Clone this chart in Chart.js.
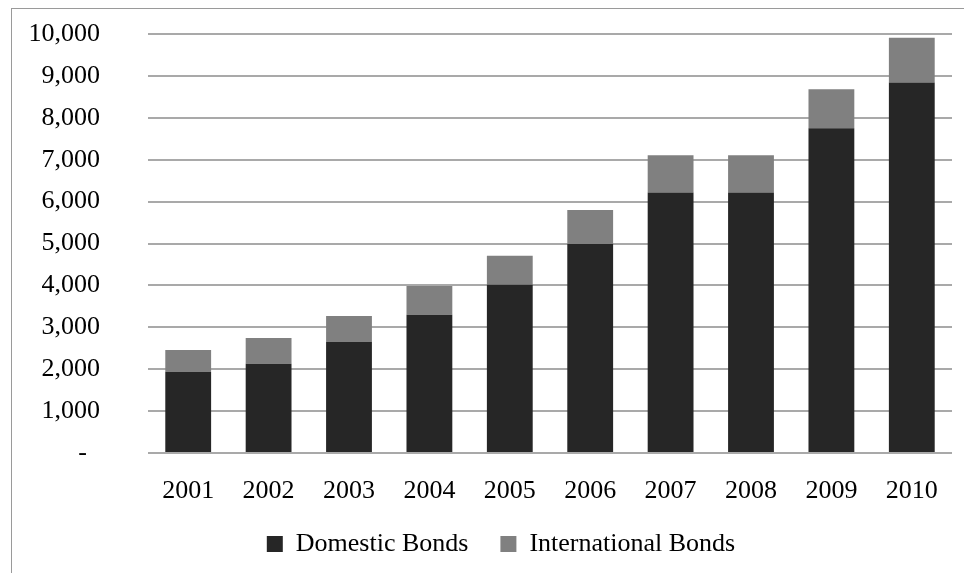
<!DOCTYPE html>
<html>
<head>
<meta charset="utf-8">
<title>Domestic and International Bonds</title>
<script src="https://cdn.jsdelivr.net/npm/chart.js@4.4.1/dist/chart.umd.min.js"></script>
<style>
  html, body { margin: 0; padding: 0; background: #fff; overflow: hidden; }
  #wrap { position: relative; width: 964px; height: 573px; }
  /* outer frame, runs off the right and bottom edges */
  #frame {
    position: absolute; left: 11px; top: 8px; width: 1000px; height: 700px;
    border: 1px solid #9a9a9a; box-sizing: border-box;
  }
  #bondChart { position: absolute; left: 0; top: 0; }
</style>
</head>
<body>
<div id="wrap">
  <div id="frame"></div>
  <canvas id="bondChart" width="964" height="573"></canvas>
</div>
<script>
// Data
const years = ['2001', '2002', '2003', '2004', '2005', '2006', '2007', '2008', '2009', '2010'];
const domesticBonds = [1940, 2130, 2655, 3300, 4015, 4990, 6220, 6220, 7750, 8840];
const internationalBonds = [520, 615, 615, 685, 695, 810, 885, 885, 930, 1070];
const yTicks = [0, 1000, 2000, 3000, 4000, 5000, 6000, 7000, 8000, 9000, 10000];

const serif = { family: "'Liberation Serif', 'Times New Roman', serif", size: 26 };

// nudge the legend a little right of the canvas centre
const legendShift = {
  id: 'legendShift',
  afterLayout(chart) {
    chart.legend.left += 12;
    chart.legend.right += 12;
  }
};

const ctx = document.getElementById('bondChart').getContext('2d');
const bondChart = new Chart(ctx, {
  type: 'bar',
  data: {
    labels: years,
    datasets: [
      {
        label: 'Domestic Bonds',
        data: domesticBonds,
        backgroundColor: '#262626',
        barPercentage: 0.57,
        categoryPercentage: 1
      },
      {
        label: 'International Bonds',
        data: internationalBonds,
        backgroundColor: '#808080',
        barPercentage: 0.57,
        categoryPercentage: 1
      }
    ]
  },
  plugins: [legendShift],
  options: {
    responsive: false,
    animation: false,
    layout: { padding: { left: 26, right: 12, top: 34, bottom: 6 } },
    scales: {
      x: {
        stacked: true,
        grid: { display: false },
        border: { display: false },
        ticks: { color: '#000', font: serif, padding: 15, maxRotation: 0 },
        afterFit: function(scale) { scale.height = 46; }
      },
      y: {
        stacked: true,
        min: 0,
        max: 10000,
        afterBuildTicks: function(scale) {
          scale.ticks = yTicks.map(v => ({ value: v }));
        },
        // invisible tick marks give the gap between labels and gridlines
        grid: { color: '#a9a9a9', lineWidth: 2, drawTicks: true, tickLength: 48, tickColor: 'rgba(0,0,0,0)' },
        border: { display: false },
        ticks: {
          color: '#000',
          font: serif,
          padding: 0,
          callback: function(value) {
            return value === 0 ? '-  ' : value.toLocaleString('en-US');
          }
        },
        afterFit: function(scale) { scale.width = 122; }
      }
    },
    plugins: {
      legend: {
        position: 'bottom',
        labels: {
          color: '#000',
          font: serif,
          boxWidth: 16,
          boxHeight: 16,
          padding: 32
        }
      },
      tooltip: { enabled: false }
    }
  }
});
</script>
</body>
</html>
